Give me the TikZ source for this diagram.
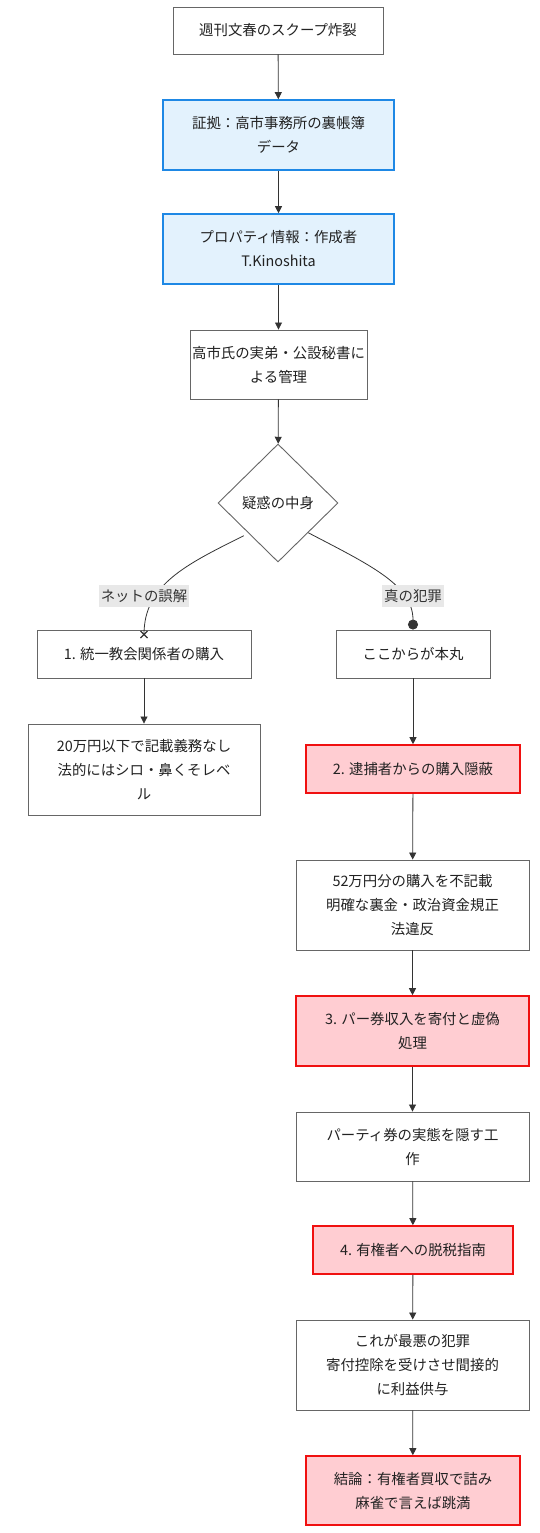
\documentclass[tikz,border=0pt]{standalone}
\usepackage{fontspec}
\setmainfont{Noto Sans CJK JP}
\usetikzlibrary{arrows.meta,shapes.geometric}
\definecolor{edgecol}{HTML}{333333}
\definecolor{boxline}{HTML}{666666}
\definecolor{txt}{HTML}{222222}
\definecolor{bluefill}{HTML}{E3F2FD}
\definecolor{blueline}{HTML}{1E88E5}
\definecolor{redfill}{HTML}{FFCDD2}
\definecolor{redline}{HTML}{F01010}
\definecolor{labfill}{HTML}{E8E8E8}
\tikzset{
  box/.style={draw=boxline, line width=0.9pt, fill=white, inner sep=0pt, align=center, text=txt, font=\fontsize{14.4}{24}\selectfont},
  bluebox/.style={box, draw=blueline, fill=bluefill, line width=1.6pt},
  redbox/.style={box, draw=redline, fill=redfill, line width=1.6pt},
  dia/.style={box, diamond, inner sep=0pt},
  elabel/.style={fill=labfill, text=edgecol, inner xsep=2pt, inner ysep=4pt, font=\fontsize{14.4}{16}\selectfont},
  conn/.style={draw=edgecol, line width=0.8pt, -{Triangle[length=7pt,width=7pt]}},
  plainconn/.style={draw=edgecol, line width=0.8pt},
}
\begin{document}
\begin{tikzpicture}[x=1pt,y=-1pt]
\useasboundingbox[fill=white] (0,0) rectangle (540,1533);
\node[box, minimum width=210pt, minimum height=47pt] (n1) at (278,30.5) {週刊文春のスクープ炸裂};
\node[bluebox, minimum width=231pt, minimum height=70pt] (n2) at (278.5,135) {証拠：高市事務所の裏帳簿\\データ};
\node[bluebox, minimum width=231pt, minimum height=70pt] (n3) at (278.5,249) {プロパティ情報：作成者\\T.Kinoshita};
\node[box, minimum width=177pt, minimum height=69pt] (n4) at (278.5,364.5) {高市氏の実弟・公設秘書に\\よる管理};
\node[dia, minimum width=120pt, minimum height=118pt] (d) at (278,503) {疑惑の中身};
\node[box, minimum width=214pt, minimum height=48pt] (l1) at (144,654) {1. 統一教会関係者の購入};
\node[box, minimum width=232pt, minimum height=91pt] (l2) at (144,769.5) {20万円以下で記載義務なし\\法的にはシロ・鼻くそレベ\\ル};
\node[box, minimum width=154pt, minimum height=48pt] (r1) at (413,654) {ここからが本丸};
\node[redbox, minimum width=214pt, minimum height=48pt] (r2) at (413,769) {2. 逮捕者からの購入隠蔽};
\node[box, minimum width=233pt, minimum height=90pt] (r3) at (412.5,905) {52万円分の購入を不記載\\明確な裏金・政治資金規正\\法違反};
\node[redbox, minimum width=233pt, minimum height=70pt] (r4) at (412.5,1031) {3. パー券収入を寄付と虚偽\\処理};
\node[box, minimum width=233pt, minimum height=69pt] (r5) at (412.5,1146.5) {パーティ券の実態を隠す工\\作};
\node[redbox, minimum width=200pt, minimum height=48pt] (r6) at (413,1250) {4. 有権者への脱税指南};
\node[box, minimum width=233pt, minimum height=90pt] (r7) at (412.5,1365) {これが最悪の犯罪\\寄付控除を受けさせ間接的\\に利益供与};
\node[redbox, minimum width=214pt, minimum height=69pt] (r8) at (413,1490.5) {結論：有権者買収で詰み\\麻雀で言えば跳満};

\draw[conn] (n1) -- (n2);
\draw[conn] (n2) -- (n3);
\draw[conn] (n3) -- (n4);
\draw[conn] (n4) -- (d);
\draw[conn] (l1) -- (l2);
\draw[conn] (r1) -- (r2);
\draw[conn] (r2) -- (r3);
\draw[conn] (r3) -- (r4);
\draw[conn] (r4) -- (r5);
\draw[conn] (r5) -- (r6);
\draw[conn] (r6) -- (r7);
\draw[conn] (r7) -- (r8);

\coordinate (cx) at ([yshift=-5pt]l1.north);
\draw[plainconn] ([shift={(-4pt,-3pt)}]d.south west) .. controls (185,565) and (144,585) .. (cx);
\draw[edgecol, line width=1.2pt] ([shift={(-3.5pt,-3.5pt)}]cx) -- ([shift={(3.5pt,3.5pt)}]cx)
  ([shift={(-3.5pt,3.5pt)}]cx) -- ([shift={(3.5pt,-3.5pt)}]cx);
\draw[plainconn, -{Circle[length=10pt]}] (d.south east) .. controls (370,565) and (413,585) .. (r1.north);

\node[elabel] (lab1) at (144,596) {ネットの誤解};
\node[elabel] (lab2) at (413,596) {真の犯罪};
\end{tikzpicture}
\end{document}
